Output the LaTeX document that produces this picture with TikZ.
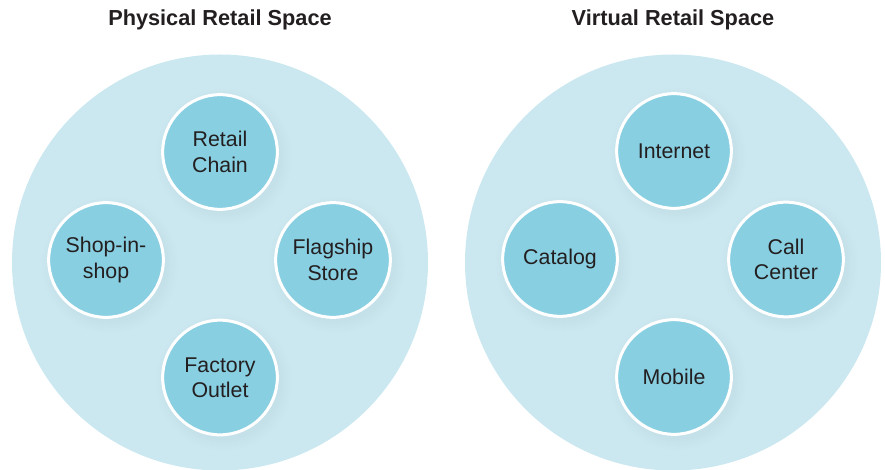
\documentclass[tikz,border=0pt]{standalone}
\usepackage{fontspec}
\setmainfont{Liberation Sans}
\definecolor{spacebg}{HTML}{CBE8F0}
\definecolor{channelblue}{HTML}{88CFE1}
\definecolor{shadowgray}{HTML}{93A7AD}
\definecolor{ink}{HTML}{231F20}

\begin{document}
\begin{tikzpicture}[x=0.75pt,y=-0.75pt,
    space/.style={circle,fill=spacebg,minimum size=312pt,inner sep=0pt},
    channel/.style={circle,fill=channelblue,draw=white,line width=2.25pt,
        minimum size=86pt,inner sep=0pt,align=center,text=ink,
        font=\fontsize{16}{19}\selectfont},
    title/.style={font=\bfseries\fontsize{16.3}{19}\selectfont,text=ink}]
    \useasboundingbox (0,0) rectangle (885,470);

    % the two spaces
    \draw (220,262.5) node [space] (physical) {} ;
    \draw (673,262.5) node [space] (virtual) {} ;
    \draw (220,20) node [title] (physicaltitle) {Physical Retail Space} ;
    \draw (673,20) node [title] (virtualtitle) {Virtual Retail Space} ;

    % soft shadows under the channels, ring by ring from the outside in
    \foreach \cx/\cy in {220/152, 106/260, 333/260, 220/377.5,
                         674/151, 560/259, 786/259.5, 674/377}
        \foreach \k [evaluate=\k as \p using int(100*\k/12)] in {0,...,12}
            \fill [shadowgray!\p!spacebg] (\cx+4,\cy+5) circle [radius={(69-\k)*0.75pt}];

    % physical channels
    \draw (220,152) node [channel] (chain) {Retail\\Chain} ;
    \draw (106,260) node [channel] (shop) {Shop-in-\\shop} ;
    \draw (333,260) node [channel] (flagship) {Flagship\\Store} ;
    \draw (220,377.5) node [channel] (factory) {Factory\\Outlet} ;

    % virtual channels
    \draw (674,151) node [channel] (internet) {Internet} ;
    \draw (560,259) node [channel] (catalog) {Catalog} ;
    \draw (786,259.5) node [channel] (callcenter) {Call\\Center} ;
    \draw (674,377) node [channel] (mobile) {Mobile} ;
\end{tikzpicture}
\end{document}
